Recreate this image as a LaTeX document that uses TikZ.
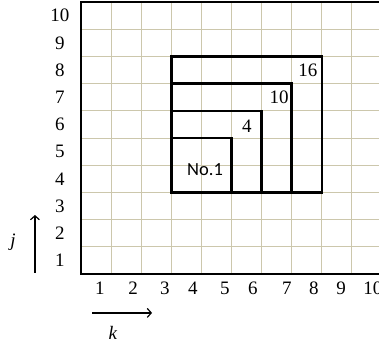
\documentclass[tikz,border=0pt]{standalone}
\usepackage{fontspec}
\setmainfont{Liberation Serif}
\newfontfamily\labelsans{Carlito}
\usetikzlibrary{arrows.meta,positioning}
\definecolor{gridtan}{RGB}{204,199,172}

\begin{document}
\begin{tikzpicture}[x=30.1pt, y=27.2pt,
    gridline/.style={gridtan, line width=1pt},
    frame/.style={line width=2.6pt},
    square/.style={line width=2.6pt},
    num/.style={font=\fontsize{19}{21}\selectfont, inner sep=0pt},
    axisarrow/.style={line width=1.2pt, -{Straight Barb[length=4pt,width=9pt]}}]
  \useasboundingbox (-2.691,-2.574) rectangle (9.900,10.074);
  \draw[gridline, step=1] (0,0) grid (10,10);
  \draw[frame] (0,0) rectangle (10,10);
  % nested squares
  \draw[square] (3,3) rectangle (5,5);
  \draw[square] (3,3) rectangle (6,6);
  \draw[square] (3,3) rectangle (7,7);
  \draw[square] (3,3) rectangle (8,8);
  \node[num, font=\labelsans\fontsize{18.5}{20}\selectfont] (no1) at (4.12,3.85) {No.1};
  \node[num] (sq4) at (5.51,5.42) {4};
  \node[num] (sq10) at (6.58,6.51) {10};
  \node[num] (sq16) at (7.54,7.5) {16};
  % axis numbers
  \foreach \j in {1,...,10}
    \node[num] (j\j) at (-0.70,\j-0.5) {\j};
  \foreach \k/\x in {1/0.63,2/1.73,3/2.79,4/3.72,5/4.78,6/5.71,7/6.84,8/7.74,9/8.64,10/9.70}
    \node[num] (k\k) at (\x,-0.51) {\k};
  % direction arrows
  \coordinate (jfrom) at (-1.53,0.04);
  \coordinate (jto) at (-1.53,2.17);
  \coordinate (kfrom) at (0.37,-1.43);
  \coordinate (kto) at (2.36,-1.43);
  \draw[axisarrow] (jfrom) -- (jto);
  \draw[axisarrow] (kfrom) -- (kto);
  \node[num] (jlab) at (-2.26,1.18) {\textit{j}};
  \node[num] (klab) at (1.06,-2.17) {\textit{k}};
\end{tikzpicture}
\end{document}
